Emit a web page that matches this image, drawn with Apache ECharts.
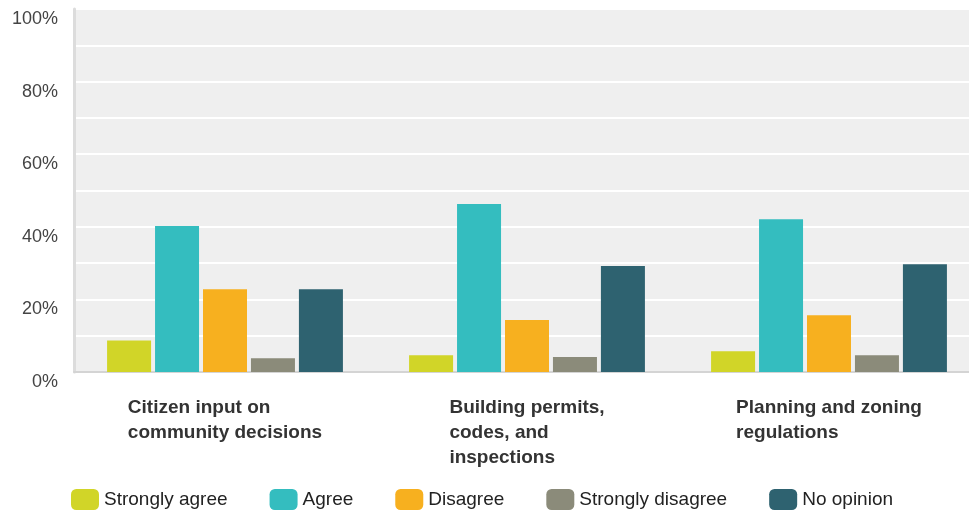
<!DOCTYPE html>
<html>
<head>
<meta charset="utf-8">
<script src="https://cdn.jsdelivr.net/npm/echarts@6/dist/echarts.min.js"></script>
<style>html,body{margin:0;padding:0;background:#fff;}#c{width:969px;height:515px;}</style>
</head>
<body>
<div id="c"></div>
<script>
var categories = ['Citizen input on\ncommunity decisions', 'Building permits,\ncodes, and\ninspections', 'Planning and zoning\nregulations'];
var seriesNames = ['Strongly agree', 'Agree', 'Disagree', 'Strongly disagree', 'No opinion'];
var colors = ['#d1d528', '#34bdbf', '#f7b01f', '#8b8b7a', '#2e6270'];
var stronglyAgree = [8.7, 4.6, 5.7];
var agree = [40.2, 46.3, 42.1];
var disagree = [22.8, 14.3, 15.6];
var stronglyDisagree = [3.8, 4.1, 4.6];
var noOpinion = [22.8, 29.2, 29.7];
var yTicks = [0, 20, 40, 60, 80, 100];

var allData = [stronglyAgree, agree, disagree, stronglyDisagree, noOpinion];
var chart = echarts.init(document.getElementById('c'));
var series = seriesNames.map(function (n, i) {
  return {
    name: n, type: 'bar', data: allData[i], barWidth: 44, barGap: '9%',
    itemStyle: { color: colors[i] }
  };
});
chart.setOption({
  animation: false,
  color: colors,
  grid: { left: 74, width: 906, top: 9, bottom: 143, show: true, backgroundColor: '#efefef', borderWidth: 0, outerBoundsMode: 'none', containLabel: false },
  legend: {
    left: 66, top: 484, itemWidth: 28, itemHeight: 21, itemGap: 42,
    icon: 'roundRect',
    textStyle: { fontSize: 19, color: '#222', fontFamily: 'Liberation Sans, Arial, sans-serif' },
    data: seriesNames
  },
  xAxis: {
    type: 'category', data: categories,
    axisLine: { lineStyle: { color: '#d4d4d4', width: 2 } },
    axisTick: { show: false },
    axisLabel: {
      margin: 23, interval: 0,
      formatter: function (v) {
        return v.split('\n').map(function (l) { return '{a|' + l + '}'; }).join('\n');
      },
      rich: {
        a: { fontSize: 19, fontWeight: 'bold', color: '#333', fontFamily: 'Liberation Sans, Arial, sans-serif', lineHeight: 25, align: 'left' }
      }
    }
  },
  yAxis: {
    type: 'value', min: 0, max: 100, interval: 10,
    axisLine: { show: true, lineStyle: { color: '#dcdcdc', width: 3 } },
    axisTick: { show: false },
    splitLine: { lineStyle: { color: '#ffffff', width: 2 } },
    axisLabel: {
      margin: 16, fontSize: 18, color: '#444', fontFamily: 'Liberation Sans, Arial, sans-serif',
      verticalAlign: 'top', padding: [1, 0, 0, 0],
      formatter: function (v) { return yTicks.indexOf(v) >= 0 ? v + '%' : ''; }
    }
  },
  series: series
});
</script>
</body>
</html>
